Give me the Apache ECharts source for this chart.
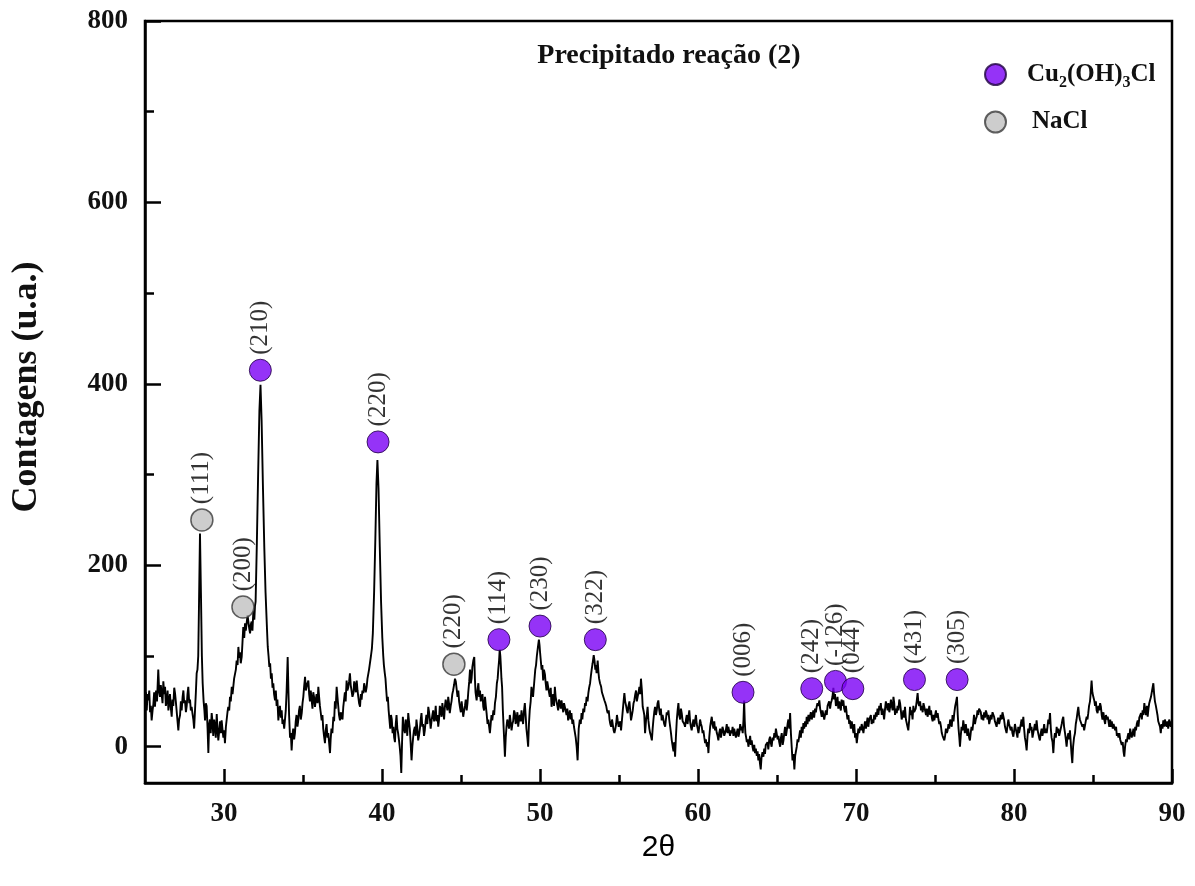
<!DOCTYPE html>
<html>
<head>
<meta charset="utf-8">
<script src="https://cdn.jsdelivr.net/npm/echarts@6/dist/echarts.min.js"></script>
<style>
  html, body { margin: 0; padding: 0; background: #fff; }
  #chart { width: 1195px; height: 886px; }
</style>
</head>
<body>
<div id="chart"></div>
<script>
// XRD scan: [2θ (degrees), counts]
const xrdScan = [
  [25.00,52],[25.06,60],[25.11,40],[25.16,58],[25.21,51],[25.27,62],[25.32,38],[25.37,45],[25.42,29],[25.48,40],
  [25.53,47],[25.58,60],[25.63,44],[25.70,62],[25.76,50],[25.84,85],[25.90,60],[25.95,55],[26.00,68],[26.05,59],
  [26.11,48],[26.16,72],[26.22,58],[26.27,66],[26.32,45],[26.37,50],[26.43,62],[26.48,40],[26.53,48],[26.58,58],
  [26.64,42],[26.69,33],[26.74,52],[26.79,45],[26.85,65],[26.90,59],[26.95,50],[27.00,40],[27.06,28],[27.11,18],
  [27.16,30],[27.22,35],[27.27,50],[27.32,40],[27.38,55],[27.43,62],[27.48,48],[27.53,51],[27.59,38],[27.64,45],
  [27.69,58],[27.74,66],[27.80,48],[27.85,52],[27.90,40],[27.95,44],[28.01,36],[28.06,30],[28.11,20],[28.16,18],
  [28.22,60],[28.27,81],[28.32,85],[28.37,100],[28.42,160],[28.48,235],[28.54,170],[28.60,100],[28.65,70],[28.71,50],
  [28.76,40],[28.80,29],[28.85,48],[28.90,45],[28.96,20],[29.01,-7],[29.06,25],[29.11,30],[29.16,15],[29.22,37],
  [29.27,28],[29.32,12],[29.38,30],[29.43,22],[29.48,10],[29.54,36],[29.59,20],[29.64,7],[29.70,18],[29.75,28],
  [29.80,15],[29.85,29],[29.90,20],[29.96,10],[30.01,18],[30.06,4],[30.12,22],[30.17,30],[30.22,38],[30.27,44],
  [30.33,40],[30.38,55],[30.43,50],[30.49,66],[30.54,58],[30.59,60],[30.64,75],[30.70,73],[30.75,85],[30.80,95],
  [30.86,90],[30.91,110],[30.96,98],[31.01,104],[31.06,92],[31.12,99],[31.17,115],[31.22,132],[31.28,120],[31.33,136],
  [31.38,128],[31.43,130],[31.49,145],[31.54,143],[31.60,130],[31.65,125],[31.70,135],[31.75,138],[31.80,128],[31.86,150],
  [31.92,140],[31.96,155],[32.00,160],[32.08,225],[32.16,300],[32.24,370],[32.31,399],[32.38,360],[32.46,290],[32.55,220],
  [32.63,170],[32.72,130],[32.77,110],[32.82,100],[32.87,88],[32.92,92],[32.97,75],[33.02,81],[33.07,65],[33.12,70],
  [33.17,58],[33.23,51],[33.28,62],[33.33,45],[33.38,52],[33.44,29],[33.49,40],[33.54,45],[33.60,32],[33.65,40],
  [33.70,25],[33.75,30],[33.81,20],[33.86,22],[33.91,40],[33.96,60],[34.03,99],[34.08,60],[34.12,35],[34.18,10],
  [34.23,15],[34.28,-4],[34.33,12],[34.38,20],[34.44,8],[34.49,15],[34.54,28],[34.59,35],[34.65,22],[34.70,29],
  [34.75,40],[34.80,45],[34.86,30],[34.92,37],[34.97,48],[35.02,55],[35.07,66],[35.13,77],[35.18,62],[35.23,60],
  [35.28,70],[35.34,73],[35.39,58],[35.44,50],[35.49,62],[35.55,51],[35.60,42],[35.65,60],[35.70,55],[35.76,44],
  [35.81,52],[35.86,58],[35.92,48],[35.97,66],[36.02,55],[36.07,45],[36.12,38],[36.18,29],[36.23,35],[36.28,20],
  [36.33,12],[36.39,4],[36.44,18],[36.49,25],[36.55,10],[36.60,15],[36.65,5],[36.71,-7],[36.75,8],[36.80,20],
  [36.86,15],[36.92,33],[36.97,28],[37.02,50],[37.07,42],[37.13,66],[37.18,55],[37.23,45],[37.28,35],[37.34,29],
  [37.39,38],[37.44,40],[37.50,30],[37.55,44],[37.60,52],[37.65,60],[37.70,50],[37.76,73],[37.81,62],[37.86,65],
  [37.92,72],[37.97,81],[38.02,68],[38.07,70],[38.13,55],[38.19,59],[38.24,72],[38.29,68],[38.34,60],[38.40,73],
  [38.45,62],[38.50,55],[38.55,48],[38.61,44],[38.66,58],[38.71,52],[38.76,62],[38.82,59],[38.87,70],[38.92,70],
  [38.97,60],[39.03,66],[39.08,75],[39.13,75],[39.18,85],[39.24,85],[39.30,100],[39.36,108],[39.42,125],[39.50,170],
  [39.58,230],[39.65,290],[39.71,316],[39.78,285],[39.86,220],[39.94,160],[40.02,120],[40.08,100],[40.12,90],[40.17,82],
  [40.22,75],[40.27,62],[40.32,50],[40.37,55],[40.42,40],[40.47,30],[40.52,20],[40.57,35],[40.62,30],[40.67,15],
  [40.72,22],[40.77,10],[40.82,5],[40.87,25],[40.92,35],[40.97,20],[41.02,15],[41.07,8],[41.12,0],[41.17,-10],
  [41.22,-29],[41.27,5],[41.32,33],[41.38,20],[41.45,15],[41.50,30],[41.55,25],[41.60,12],[41.66,37],[41.71,28],
  [41.76,20],[41.81,5],[41.87,-15],[41.92,0],[41.97,10],[42.02,18],[42.08,22],[42.13,12],[42.18,30],[42.24,20],
  [42.29,7],[42.34,12],[42.40,20],[42.45,30],[42.50,37],[42.55,22],[42.60,25],[42.66,12],[42.71,18],[42.76,28],
  [42.81,35],[42.87,25],[42.93,44],[42.98,38],[43.03,30],[43.08,20],[43.14,29],[43.19,35],[43.24,40],[43.30,28],
  [43.35,33],[43.40,45],[43.45,28],[43.51,35],[43.56,22],[43.61,30],[43.66,45],[43.72,40],[43.77,33],[43.82,48],
  [43.87,40],[43.93,30],[43.98,44],[44.03,52],[44.08,50],[44.14,40],[44.19,55],[44.24,48],[44.29,37],[44.35,45],
  [44.40,50],[44.45,58],[44.50,62],[44.56,68],[44.62,75],[44.67,72],[44.72,70],[44.78,55],[44.83,62],[44.88,50],
  [44.93,44],[44.99,38],[45.04,50],[45.09,42],[45.14,33],[45.20,40],[45.25,45],[45.30,52],[45.36,40],[45.41,48],
  [45.46,60],[45.52,72],[45.57,85],[45.62,70],[45.67,75],[45.72,88],[45.78,95],[45.84,99],[45.88,75],[45.92,60],
  [45.99,51],[46.04,62],[46.10,70],[46.15,55],[46.20,62],[46.25,50],[46.30,48],[46.36,58],[46.41,44],[46.46,40],
  [46.52,55],[46.57,45],[46.62,37],[46.68,25],[46.73,30],[46.78,22],[46.83,15],[46.88,25],[46.93,35],[46.98,29],
  [47.05,40],[47.10,35],[47.15,48],[47.21,55],[47.27,70],[47.32,75],[47.36,85],[47.41,95],[47.45,107],[47.49,100],
  [47.52,90],[47.56,75],[47.60,66],[47.65,40],[47.70,20],[47.74,5],[47.78,-11],[47.83,10],[47.88,22],[47.93,30],
  [47.99,29],[48.04,20],[48.09,35],[48.14,28],[48.20,18],[48.25,25],[48.30,28],[48.36,40],[48.41,37],[48.46,25],
  [48.51,30],[48.57,38],[48.62,22],[48.67,30],[48.72,35],[48.78,28],[48.83,40],[48.88,32],[48.93,25],[48.99,40],
  [49.04,48],[49.09,35],[49.14,20],[49.20,10],[49.25,0],[49.30,25],[49.35,40],[49.41,50],[49.46,66],[49.51,60],
  [49.56,55],[49.62,68],[49.70,85],[49.75,90],[49.80,100],[49.87,110],[49.93,118],[49.97,112],[50.00,105],[50.05,95],
  [50.10,85],[50.15,90],[50.20,73],[50.25,85],[50.31,80],[50.36,70],[50.41,62],[50.46,72],[50.52,70],[50.57,60],
  [50.62,55],[50.68,65],[50.73,44],[50.78,50],[50.83,58],[50.89,45],[50.94,66],[50.99,55],[51.04,50],[51.10,45],
  [51.15,40],[51.20,52],[51.26,48],[51.31,42],[51.36,51],[51.41,45],[51.47,38],[51.52,48],[51.57,44],[51.62,40],
  [51.68,35],[51.73,42],[51.78,29],[51.84,35],[51.89,40],[51.94,30],[51.99,37],[52.05,25],[52.10,30],[52.15,22],
  [52.20,20],[52.26,10],[52.32,0],[52.38,-15],[52.45,20],[52.52,30],[52.58,25],[52.63,37],[52.68,30],[52.74,42],
  [52.80,38],[52.85,48],[52.90,45],[52.95,55],[53.01,50],[53.06,59],[53.11,65],[53.17,70],[53.22,78],[53.27,85],
  [53.33,92],[53.40,101],[53.45,95],[53.50,85],[53.54,90],[53.58,81],[53.62,88],[53.65,95],[53.70,82],[53.74,75],
  [53.80,70],[53.87,66],[53.92,60],[53.98,58],[54.03,62],[54.08,51],[54.14,48],[54.19,45],[54.24,40],[54.29,37],
  [54.35,40],[54.40,30],[54.45,25],[54.50,22],[54.56,30],[54.61,28],[54.66,18],[54.71,15],[54.77,20],[54.82,25],
  [54.87,35],[54.92,29],[54.98,22],[55.03,20],[55.08,28],[55.13,18],[55.19,30],[55.24,40],[55.29,50],[55.34,59],
  [55.39,50],[55.45,45],[55.50,40],[55.55,37],[55.60,45],[55.66,50],[55.71,40],[55.76,29],[55.82,35],[55.87,40],
  [55.92,48],[55.97,51],[56.03,58],[56.08,62],[56.13,50],[56.18,55],[56.24,60],[56.29,66],[56.34,58],[56.39,75],
  [56.45,62],[56.50,44],[56.55,40],[56.60,35],[56.65,15],[56.71,29],[56.76,35],[56.81,44],[56.86,29],[56.92,20],
  [56.97,15],[57.02,12],[57.08,7],[57.13,20],[57.18,30],[57.23,38],[57.28,44],[57.34,35],[57.39,40],[57.44,48],
  [57.49,51],[57.55,40],[57.60,35],[57.65,42],[57.70,29],[57.76,35],[57.81,30],[57.86,25],[57.92,22],[57.97,30],
  [58.02,38],[58.08,35],[58.13,40],[58.18,30],[58.24,22],[58.29,15],[58.34,7],[58.40,0],[58.45,-5],[58.50,5],
  [58.55,-11],[58.60,10],[58.66,30],[58.71,40],[58.76,48],[58.81,35],[58.87,30],[58.92,42],[58.97,37],[59.03,28],
  [59.08,30],[59.13,25],[59.18,22],[59.24,30],[59.29,35],[59.34,25],[59.39,33],[59.45,40],[59.50,28],[59.55,22],
  [59.60,18],[59.66,25],[59.71,30],[59.76,22],[59.82,29],[59.87,35],[59.92,25],[59.98,20],[60.03,15],[60.08,22],
  [60.13,30],[60.19,25],[60.24,22],[60.29,15],[60.34,18],[60.40,10],[60.45,4],[60.50,8],[60.56,0],[60.61,5],
  [60.66,-7],[60.71,10],[60.77,22],[60.82,28],[60.87,33],[60.92,25],[60.98,20],[61.03,28],[61.08,18],[61.13,22],
  [61.19,15],[61.24,12],[61.29,7],[61.34,15],[61.40,20],[61.45,10],[61.50,15],[61.55,22],[61.61,18],[61.66,12],
  [61.71,11],[61.76,18],[61.82,25],[61.87,15],[61.92,22],[61.98,20],[62.03,12],[62.08,18],[62.14,15],[62.19,22],
  [62.24,12],[62.29,20],[62.35,18],[62.40,10],[62.45,15],[62.51,20],[62.56,11],[62.61,15],[62.67,25],[62.72,18],
  [62.77,22],[62.83,15],[62.88,30],[62.92,51],[62.96,28],[63.00,15],[63.04,11],[63.09,5],[63.14,8],[63.19,0],
  [63.24,5],[63.30,12],[63.35,2],[63.40,7],[63.45,0],[63.51,-5],[63.56,2],[63.61,-7],[63.66,-2],[63.72,-10],
  [63.77,-5],[63.82,-15],[63.87,-8],[63.92,-18],[63.97,-25],[64.02,-12],[64.08,-6],[64.14,-11],[64.19,-2],[64.24,-8],
  [64.29,2],[64.35,0],[64.40,5],[64.45,-3],[64.51,8],[64.56,11],[64.61,4],[64.66,0],[64.72,10],[64.78,7],
  [64.83,15],[64.88,10],[64.93,20],[64.99,18],[65.04,8],[65.09,12],[65.14,5],[65.20,0],[65.25,10],[65.30,15],
  [65.36,2],[65.41,7],[65.46,15],[65.51,22],[65.57,12],[65.62,18],[65.67,25],[65.72,30],[65.78,20],[65.83,37],
  [65.88,15],[65.93,0],[65.98,-15],[66.04,-8],[66.10,-25],[66.15,-10],[66.20,-5],[66.25,0],[66.30,8],[66.35,5],
  [66.41,12],[66.46,18],[66.51,10],[66.56,22],[66.62,15],[66.67,26],[66.72,20],[66.78,28],[66.83,22],[66.88,33],
  [66.93,25],[66.99,35],[67.04,28],[67.09,29],[67.14,38],[67.20,30],[67.25,35],[67.30,40],[67.35,32],[67.41,42],
  [67.46,38],[67.51,44],[67.56,48],[67.62,45],[67.68,51],[67.73,42],[67.78,38],[67.83,33],[67.88,40],[67.94,35],
  [67.99,30],[68.04,29],[68.09,40],[68.15,35],[68.20,45],[68.25,44],[68.30,50],[68.36,42],[68.41,48],[68.46,51],
  [68.51,55],[68.57,65],[68.62,52],[68.67,58],[68.73,45],[68.78,48],[68.83,55],[68.88,42],[68.94,50],[68.99,44],
  [69.04,40],[69.09,52],[69.15,45],[69.20,51],[69.25,42],[69.31,38],[69.36,45],[69.41,37],[69.46,30],[69.52,35],
  [69.57,25],[69.62,29],[69.67,20],[69.73,28],[69.78,22],[69.84,15],[69.89,25],[69.94,10],[69.99,15],[70.05,4],
  [70.10,12],[70.15,20],[70.20,15],[70.26,22],[70.31,18],[70.36,25],[70.42,20],[70.47,15],[70.52,22],[70.57,28],
  [70.63,20],[70.68,26],[70.73,32],[70.78,22],[70.84,30],[70.89,29],[70.94,35],[70.99,25],[71.05,30],[71.10,26],
  [71.15,35],[71.21,30],[71.26,38],[71.31,33],[71.36,42],[71.42,35],[71.47,45],[71.52,40],[71.57,48],[71.63,35],
  [71.68,42],[71.73,37],[71.78,30],[71.84,42],[71.89,50],[71.95,51],[72.00,40],[72.05,48],[72.11,38],[72.16,44],
  [72.21,52],[72.26,45],[72.32,40],[72.37,55],[72.42,48],[72.47,35],[72.53,42],[72.58,37],[72.63,45],[72.68,40],
  [72.74,52],[72.79,48],[72.84,40],[72.89,30],[72.95,35],[73.00,40],[73.05,32],[73.10,44],[73.16,30],[73.21,29],
  [73.26,22],[73.31,18],[73.37,30],[73.42,44],[73.47,35],[73.52,40],[73.58,30],[73.63,45],[73.68,38],[73.73,37],
  [73.78,42],[73.84,50],[73.90,59],[73.95,48],[74.00,45],[74.06,50],[74.11,40],[74.16,45],[74.22,38],[74.27,48],
  [74.32,44],[74.37,40],[74.43,35],[74.48,42],[74.53,33],[74.58,38],[74.64,45],[74.69,35],[74.75,40],[74.80,32],
  [74.85,28],[74.90,35],[74.96,29],[75.01,35],[75.06,40],[75.11,32],[75.17,37],[75.22,30],[75.27,25],[75.32,28],
  [75.38,22],[75.43,15],[75.48,12],[75.53,10],[75.59,7],[75.64,12],[75.69,20],[75.75,15],[75.80,18],[75.85,25],
  [75.90,20],[75.96,30],[76.01,29],[76.06,22],[76.11,35],[76.17,28],[76.22,37],[76.28,45],[76.34,50],[76.39,55],
  [76.44,35],[76.49,20],[76.54,10],[76.58,0],[76.63,12],[76.68,22],[76.74,18],[76.79,29],[76.84,22],[76.89,15],
  [76.95,25],[77.00,18],[77.05,12],[77.10,20],[77.16,10],[77.21,7],[77.26,15],[77.31,22],[77.37,18],[77.42,26],
  [77.47,35],[77.53,25],[77.58,30],[77.64,33],[77.69,40],[77.74,35],[77.79,42],[77.85,44],[77.90,38],[77.95,30],
  [78.00,35],[78.06,29],[78.11,38],[78.16,32],[78.22,40],[78.27,37],[78.32,30],[78.37,35],[78.43,25],[78.48,29],
  [78.53,35],[78.58,30],[78.64,38],[78.69,40],[78.74,33],[78.79,28],[78.85,30],[78.90,22],[78.95,28],[79.00,32],
  [79.06,25],[79.11,29],[79.16,35],[79.22,30],[79.27,38],[79.32,40],[79.37,30],[79.43,22],[79.48,20],[79.53,15],
  [79.58,22],[79.64,30],[79.69,25],[79.74,26],[79.79,18],[79.85,22],[79.90,15],[79.96,11],[80.01,18],[80.06,25],
  [80.11,20],[80.17,18],[80.22,10],[80.27,22],[80.32,15],[80.38,15],[80.43,25],[80.48,30],[80.53,22],[80.59,33],
  [80.64,20],[80.69,10],[80.74,5],[80.80,-4],[80.85,10],[80.90,20],[80.96,15],[81.01,26],[81.06,18],[81.11,22],
  [81.17,10],[81.22,15],[81.27,20],[81.32,25],[81.38,18],[81.43,29],[81.48,20],[81.53,15],[81.59,10],[81.64,7],
  [81.69,15],[81.75,20],[81.80,12],[81.86,18],[81.91,25],[81.96,15],[82.01,20],[82.07,15],[82.12,22],[82.17,30],
  [82.22,25],[82.28,37],[82.33,20],[82.38,10],[82.44,5],[82.49,-7],[82.54,8],[82.59,15],[82.65,10],[82.70,22],
  [82.75,15],[82.80,20],[82.86,12],[82.91,11],[82.96,20],[83.02,25],[83.07,30],[83.12,33],[83.17,22],[83.23,15],
  [83.28,8],[83.33,0],[83.38,10],[83.44,15],[83.49,8],[83.54,18],[83.59,5],[83.64,-8],[83.69,-18],[83.74,0],
  [83.80,10],[83.86,15],[83.91,25],[83.96,30],[84.02,38],[84.07,44],[84.12,35],[84.17,30],[84.23,29],[84.28,29],
  [84.33,22],[84.38,25],[84.44,18],[84.49,18],[84.54,28],[84.60,33],[84.65,30],[84.70,37],[84.75,45],[84.81,50],
  [84.86,60],[84.91,73],[84.96,60],[85.02,55],[85.08,51],[85.13,45],[85.18,50],[85.23,40],[85.29,37],[85.34,45],
  [85.39,40],[85.45,48],[85.50,44],[85.55,35],[85.60,30],[85.66,38],[85.72,29],[85.77,25],[85.82,35],[85.88,30],
  [85.93,33],[85.98,28],[86.03,22],[86.09,30],[86.14,22],[86.19,28],[86.25,20],[86.30,25],[86.35,26],[86.40,18],
  [86.46,22],[86.51,12],[86.56,15],[86.61,10],[86.67,15],[86.72,8],[86.77,7],[86.82,2],[86.88,5],[86.93,-5],
  [86.98,-11],[87.03,0],[87.09,8],[87.14,5],[87.19,11],[87.24,15],[87.30,8],[87.35,20],[87.40,18],[87.45,10],
  [87.51,15],[87.56,20],[87.62,11],[87.67,22],[87.72,18],[87.77,25],[87.83,29],[87.88,22],[87.93,32],[87.98,30],
  [88.04,37],[88.09,30],[88.14,40],[88.19,35],[88.25,48],[88.30,40],[88.35,35],[88.41,45],[88.46,33],[88.51,42],
  [88.56,48],[88.62,50],[88.67,55],[88.72,60],[88.77,65],[88.82,70],[88.87,58],[88.92,50],[88.98,45],[89.03,40],
  [89.08,35],[89.13,28],[89.19,30],[89.24,22],[89.29,15],[89.34,25],[89.40,20],[89.45,29],[89.50,22],[89.55,30],
  [89.61,25],[89.66,22],[89.71,28],[89.76,20],[89.82,30],[89.87,26],[89.92,22],[89.97,28],[90.00,24]
];

// Indexed reflections: [2θ, marker height, (hkl)]
const cuPeaks = [
  [32.3, 415, '(210)'], [39.75, 336, '(220)'], [47.4, 118, '(114)'], [50.0, 133, '(230)'],
  [53.5, 118, '(322)'], [62.85, 60, '(006)'], [67.2, 64, '(242)'], [68.7, 72, '(-126)'],
  [69.8, 64, '(044)'], [73.7, 74, '(431)'], [76.4, 74, '(305)']
];
const naclPeaks = [
  [28.6, 250, '(111)'], [31.2, 154, '(200)'], [44.55, 91, '(220)']
];

const xMajorTicks = [30, 40, 50, 60, 70, 80, 90];
const xMinorTicks = [35, 45, 55, 65, 75, 85];
const yMajorTicks = [0, 200, 400, 600, 800];
const yMinorTicks = [100, 300, 500, 700];

const SERIF = '"Liberation Serif", "Times New Roman", serif';
const SANS = '"Liberation Sans", Arial, sans-serif';

const chart = echarts.init(document.getElementById('chart'), null, { renderer: 'canvas' });

const peakLabel = {
  show: true,
  formatter: '{b}',
  position: 'top',
  distance: 4,
  rotate: 90,
  align: 'left',
  verticalAlign: 'middle',
  fontFamily: SERIF,
  fontSize: 25,
  color: '#000'
};

const toPoints = arr => arr.map(p => ({ value: [p[0], p[1]], name: p[2] }));

const tickAxis = (values, len, width) => ({
  show: true, inside: true, length: len, customValues: values,
  lineStyle: { color: '#000', width: width }
});

chart.setOption({
  animation: false,
  backgroundColor: '#fff',
  grid: {
    left: 145, right: 23, top: 21, bottom: 103,
    show: true, borderColor: '#000', borderWidth: 2.5
  },
  graphic: [{
    type: 'text',
    x: 669, y: 56,
    style: {
      text: 'Precipitado reação (2)',
      fontFamily: SERIF, fontWeight: 'bold', fontSize: 28,
      fill: '#111', align: 'center', verticalAlign: 'middle'
    }
  }],
  legend: {
    orient: 'vertical',
    left: 979, top: 57,
    itemWidth: 21, itemHeight: 21,
    itemGap: 19,
    data: ['Cu2(OH)3Cl', 'NaCl'],
    formatter: name => name === 'NaCl'
      ? '{m|NaCl}'
      : '{n|Cu}{s|2}{n|(OH)}{s|3}{n|Cl}',
    textStyle: {
      padding: [0, 0, 0, 16],
      rich: {
        n: { fontFamily: SERIF, fontWeight: 'bold', fontSize: 25, color: '#111' },
        m: { fontFamily: SERIF, fontWeight: 'bold', fontSize: 25, color: '#111', padding: [0, 0, 0, 5] },
        s: { fontFamily: SERIF, fontWeight: 'bold', fontSize: 16, color: '#111', padding: [16, 0, 0, 0] }
      }
    }
  },
  xAxis: [{
    type: 'value', min: 25, max: 90,
    position: 'bottom',
    name: '2θ', nameLocation: 'middle', nameGap: 44,
    nameTextStyle: { fontFamily: SANS, fontSize: 30, color: '#000' },
    axisLine: { show: true, onZero: false, lineStyle: { color: '#000', width: 2.5 } },
    axisTick: tickAxis(xMajorTicks, 14, 2.5),
    axisLabel: {
      customValues: xMajorTicks, margin: 18,
      fontFamily: SERIF, fontWeight: 'bold', fontSize: 27, color: '#111'
    },
    splitLine: { show: false }
  }, {
    type: 'value', min: 25, max: 90,
    position: 'bottom',
    axisLine: { show: false, onZero: false },
    axisTick: tickAxis(xMinorTicks, 8, 2.5),
    axisLabel: { show: false },
    splitLine: { show: false }
  }],
  yAxis: [{
    type: 'value', min: -40, max: 800,
    position: 'left',
    name: 'Contagens (u.a.)', nameLocation: 'middle', nameGap: 100,
    nameTextStyle: {
      fontFamily: SERIF, fontWeight: 'bold', fontSize: 36, color: '#111',
      padding: [0, 0, 0, 30]
    },
    axisLine: { show: true, onZero: false, lineStyle: { color: '#000', width: 2.5 } },
    axisTick: tickAxis(yMajorTicks, 16, 2.5),
    axisLabel: {
      customValues: yMajorTicks, margin: 17,
      fontFamily: SERIF, fontWeight: 'bold', fontSize: 27, color: '#111'
    },
    splitLine: { show: false }
  }, {
    type: 'value', min: -40, max: 800,
    position: 'left',
    axisLine: { show: false, onZero: false },
    axisTick: tickAxis(yMinorTicks, 9, 2.5),
    axisLabel: { show: false },
    splitLine: { show: false }
  }],
  series: [{
    name: 'scan',
    type: 'line',
    xAxisIndex: 0, yAxisIndex: 0,
    data: xrdScan,
    showSymbol: false,
    lineStyle: { color: '#000', width: 1.9 },
    silent: true,
    z: 2
  }, {
    name: 'Cu2(OH)3Cl',
    type: 'scatter',
    xAxisIndex: 0, yAxisIndex: 0,
    data: toPoints(cuPeaks),
    symbol: 'circle', symbolSize: 22,
    itemStyle: { color: '#7a00f5', borderColor: '#1e0040', borderWidth: 1 },
    label: peakLabel,
    z: 3
  }, {
    name: 'NaCl',
    type: 'scatter',
    xAxisIndex: 0, yAxisIndex: 0,
    data: toPoints(naclPeaks),
    symbol: 'circle', symbolSize: 22,
    itemStyle: { color: '#c0c0c0', borderColor: '#3a3a3a', borderWidth: 1.5 },
    label: peakLabel,
    z: 3
  }]
});
</script>
</body>
</html>
